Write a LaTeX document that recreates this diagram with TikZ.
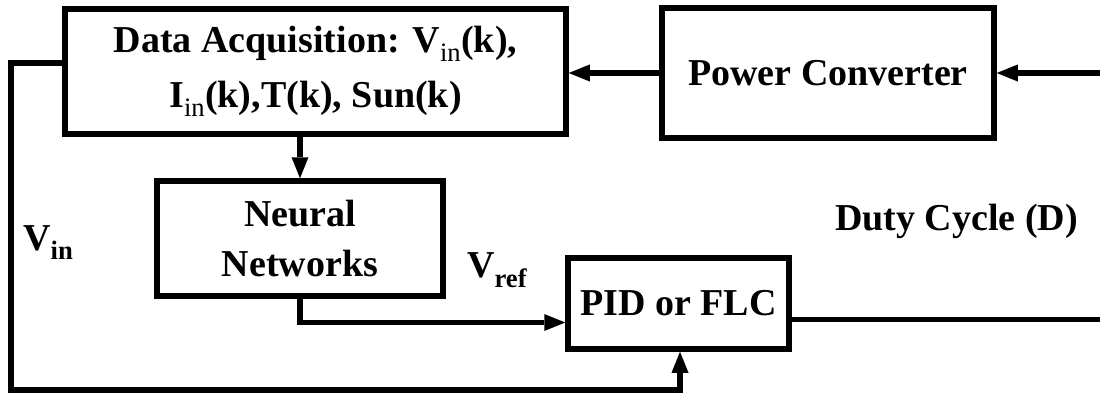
\documentclass[tikz,border=0pt]{standalone}
\usepackage{fontspec}
\setmainfont{Liberation Serif}[BoldFont={Liberation Serif Bold}]
\usetikzlibrary{arrows.meta}

\begin{document}
\begin{tikzpicture}[
    x=1pt,y=-1pt,
    block/.style={draw,line width=5.5pt,align=center,inner sep=0pt,
        font=\bfseries\fontsize{38}{55}\selectfont},
    sig/.style={anchor=base west,inner sep=0pt,
        font=\bfseries\fontsize{38}{46}\selectfont},
    arrow/.style={-{Triangle[length=21pt,width=17pt,line width=0pt]},line width=5.5pt},
    wire/.style={line width=5.5pt}
]
\useasboundingbox (0,0) rectangle (1100,396);
\node[block,minimum width=501pt,minimum height=125pt] (daq) at (315.5,71.5)
    {Data Acquisition: V\textsubscript{\mdseries in}(k),\\I\textsubscript{\mdseries in}(k),T(k), Sun(k)};
\node[block,minimum width=332pt,minimum height=130pt] (conv) at (828,73)
    {Power Converter};
\node[block,minimum width=286pt,minimum height=115pt,
    font=\bfseries\fontsize{38}{50}\selectfont] (ann) at (300,238.5)
    {Neural\\Networks};
\node[block,minimum width=221pt,minimum height=91pt] (ctrl) at (678.5,303.5)
    {PID or FLC};
\node[sig] (vin) at (23,250) {V\textsubscript{in}};
\node[sig] (vref) at (467,277) {V\textsubscript{ref}};
\node[sig] (duty) at (835,230) {Duty Cycle (D)};
\coordinate (pv) at (1100,73);
\coordinate (dout) at (1100,319.5);
\coordinate (fb) at (11,390);
\draw[arrow] (pv) -- (conv);
\draw[arrow] (conv.west) -- (conv.west -| daq.east);
\draw[arrow] (ann.north |- daq.south) -- (ann.north);
\draw[arrow] (ann.south) |- ([yshift=-19pt]ctrl.west);
\draw[wire] (dout -| ctrl.east) -- (dout);
\draw[arrow] ([yshift=8.5pt]daq.west) -| (fb) -| ([xshift=1.5pt]ctrl.south);
\end{tikzpicture}
\end{document}
